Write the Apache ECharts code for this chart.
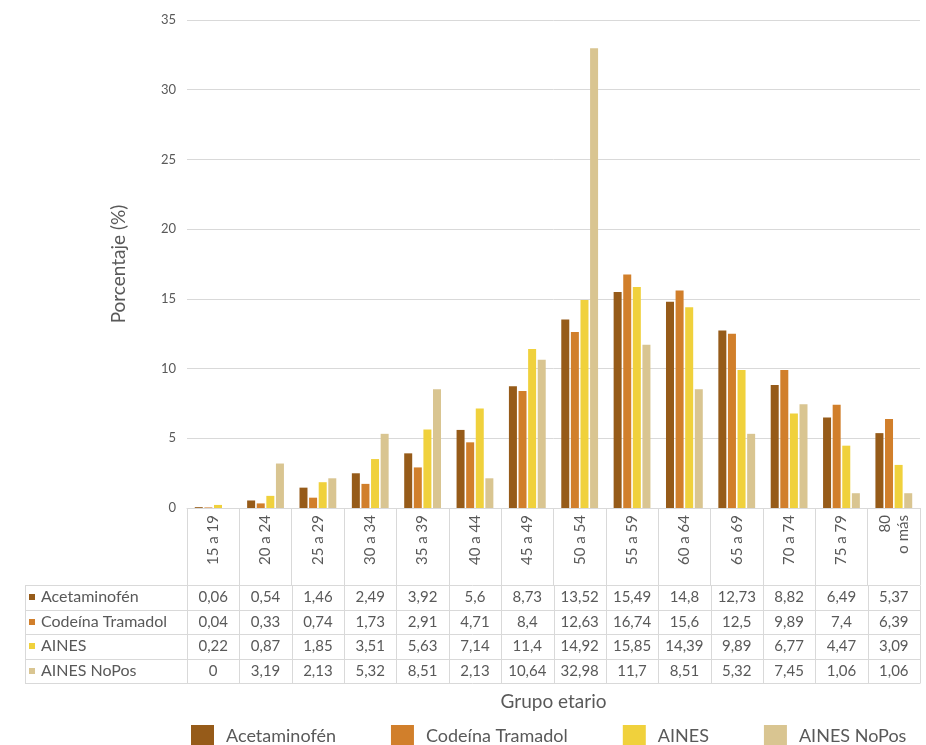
<!DOCTYPE html>
<html>
<head>
<meta charset="utf-8">
<script src="https://cdn.jsdelivr.net/npm/echarts@6/dist/echarts.min.js"></script>
<style>
  html, body { margin: 0; padding: 0; background: #ffffff; }
  #chart { width: 926px; height: 745px; }
</style>
</head>
<body>
<div id="chart"></div>
<script>
// Age groups (x categories)
const categories = ['15 a 19', '20 a 24', '25 a 29', '30 a 34', '35 a 39', '40 a 44', '45 a 49',
  '50 a 54', '55 a 59', '60 a 64', '65 a 69', '70 a 74', '75 a 79', '80\no más'];

// Percentage per drug group
const seriesNames = ['Acetaminofén', 'Codeína Tramadol', 'AINES', 'AINES NoPos'];
const acetaminofen = [0.06, 0.54, 1.46, 2.49, 3.92, 5.6, 8.73, 13.52, 15.49, 14.8, 12.73, 8.82, 6.49, 5.37];
const codeinaTramadol = [0.04, 0.33, 0.74, 1.73, 2.91, 4.71, 8.4, 12.63, 16.74, 15.6, 12.5, 9.89, 7.4, 6.39];
const aines = [0.22, 0.87, 1.85, 3.51, 5.63, 7.14, 11.4, 14.92, 15.85, 14.39, 9.89, 6.77, 4.47, 3.09];
const ainesNoPos = [0, 3.19, 2.13, 5.32, 8.51, 2.13, 10.64, 32.98, 11.7, 8.51, 5.32, 7.45, 1.06, 1.06];

const seriesValues = [acetaminofen, codeinaTramadol, aines, ainesNoPos];
const colors = ['#965B19', '#D17F2B', '#F0D13C', '#D9C591'];

const FONT = 'Lato, "Open Sans", sans-serif';
const TEXT = '#595959';
const RULE = '#d9d9d9';

const chart = echarts.init(document.getElementById('chart'), null, { renderer: 'canvas' });

chart.setOption({
  backgroundColor: '#ffffff',
  animation: false,
  textStyle: { fontFamily: FONT },
  grid: { left: 187, right: 6, top: 20, bottom: 237, containLabel: false },
  legend: {
    data: seriesNames,
    left: 191,
    top: 725,
    padding: 0,
    icon: 'rect',
    itemWidth: 23,
    itemHeight: 23,
    itemGap: 55,
    selectedMode: false,
    formatter: name => '{gap|}' + name,
    textStyle: {
      fontFamily: FONT, fontSize: 18, color: TEXT,
      rich: { gap: { width: 7 } }
    }
  },
  xAxis: {
    type: 'category',
    data: categories,
    name: 'Grupo etario',
    nameLocation: 'middle',
    nameGap: 184,
    nameTextStyle: { fontFamily: FONT, fontSize: 19, color: TEXT },
    axisLine: { lineStyle: { color: RULE, width: 1 } },
    axisTick: { show: true, length: 77, lineStyle: { color: RULE, width: 1 } },
    axisLabel: { rotate: 90, margin: 7, fontSize: 15, color: TEXT, fontFamily: FONT, lineHeight: 18 }
  },
  yAxis: {
    type: 'value',
    min: 0,
    max: 35,
    interval: 5,
    name: 'Porcentaje (%)',
    nameLocation: 'middle',
    nameGap: 59,
    nameTextStyle: { fontFamily: FONT, fontSize: 19, color: TEXT },
    axisLine: { show: false },
    axisTick: { show: false },
    axisLabel: { fontSize: 13, color: TEXT, margin: 11, fontFamily: FONT },
    splitLine: { lineStyle: { color: RULE, width: 1 } }
  },
  series: seriesNames.map((name, i) => ({
    name: name,
    type: 'bar',
    data: seriesValues[i],
    barWidth: 8,
    barGap: '20%',
    itemStyle: { color: colors[i] }
  }))
});

// Data table under the axis, aligned with the category bands
function fmt(v) { return String(v).replace('.', ','); }

function buildTable() {
  const xs = categories.map((c, i) => chart.convertToPixel({ xAxisIndex: 0 }, i));
  const band = xs[1] - xs[0];
  const baseY = chart.convertToPixel({ yAxisIndex: 0 }, 0);
  const rowTop = baseY + 77;
  const rowH = 24.5;
  const tableLeft = 25;
  const colLeft = xs[0] - band / 2;
  const colRight = xs[xs.length - 1] + band / 2;
  const nRows = seriesNames.length;
  const els = [];
  const snap = v => Math.round(v) + 0.5;

  // horizontal rules
  for (let r = 0; r <= nRows; r++) {
    const y = snap(rowTop + r * rowH);
    els.push({ type: 'line', silent: true,
      shape: { x1: tableLeft, y1: y, x2: colRight, y2: y },
      style: { stroke: RULE, lineWidth: 1 } });
  }
  // vertical rules
  const yTop = snap(rowTop), yBot = snap(rowTop + nRows * rowH);
  els.push({ type: 'line', silent: true,
    shape: { x1: snap(tableLeft), y1: yTop, x2: snap(tableLeft), y2: yBot },
    style: { stroke: RULE, lineWidth: 1 } });
  for (let c = 0; c <= categories.length; c++) {
    const x = snap(colLeft + c * band);
    els.push({ type: 'line', silent: true,
      shape: { x1: x, y1: yTop, x2: x, y2: yBot },
      style: { stroke: RULE, lineWidth: 1 } });
  }
  // row headers and values
  for (let r = 0; r < nRows; r++) {
    const cy = rowTop + r * rowH + rowH / 2;
    els.push({ type: 'rect', silent: true,
      shape: { x: 29, y: Math.round(cy - 3), width: 6, height: 6 },
      style: { fill: colors[r] } });
    els.push({ type: 'text', silent: true,
      style: { text: seriesNames[r], x: 41, y: cy, align: 'left', verticalAlign: 'middle',
        font: '16px ' + FONT, fill: TEXT } });
    seriesValues[r].forEach((v, i) => {
      els.push({ type: 'text', silent: true,
        style: { text: fmt(v), x: xs[i], y: cy, align: 'center', verticalAlign: 'middle',
          font: '15px ' + FONT, fill: TEXT } });
    });
  }
  chart.setOption({ graphic: { elements: els } });
}
buildTable();
</script>
</body>
</html>
